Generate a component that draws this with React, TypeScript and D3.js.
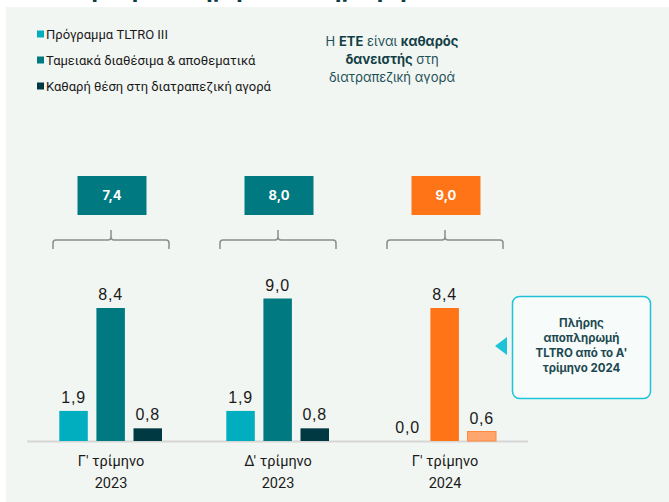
import React from 'react';
import * as d3 from 'd3';

// quarters (two-line labels)
const categories = ["Γ' τρίμηνο|2023", "Δ' τρίμηνο|2023", "Γ' τρίμηνο|2024"];
const seriesNames = ['Πρόγραμμα TLTRO III', 'Ταμειακά διαθέσιμα & αποθεματικά', 'Καθαρή θέση στη διατραπεζική αγορά'];
const tltro = [1.9, 1.9, 0.0];
const cash = [8.4, 9.0, 8.4];
const netPos = [0.8, 0.8, 0.6];
const totals = [7.4, 8.0, 9.0];
const annotationLines = [
  [{ t: 'Η ', b: false }, { t: 'ΕΤΕ', b: true }, { t: ' είναι ', b: false }, { t: 'καθαρός', b: true }],
  [{ t: 'δανειστής', b: true }, { t: ' στη', b: false }],
  [{ t: 'διατραπεζική αγορά', b: false }],
];
const calloutLines = ['Πλήρης', 'αποπληρωμή', "TLTRO από το Α'", 'τρίμηνο 2024'];

const W = 669;
const H = 502;
const seriesColors = ['#00aec0', '#007a80', '#003942'];
const orange = '#ff7417';
const lightOrange = '#ffa66e';
const fmt = (v: number) => v.toFixed(1).replace('.', ',');

export default function App() {
  const x = d3.scaleBand<string>().domain(categories).range([27.5, 528.5]).paddingInner(0);
  const inner = d3.scaleBand<number>().domain([0, 1, 2]).range([31.8, 134.5]).paddingInner(0.232);
  const y = d3.scaleLinear().domain([0, 9]).range([441, 298.5]);
  const series = [tltro, cash, netPos];

  const barFill = (s: number, g: number) => {
    if (g === 2 && s === 1) return orange;
    if (g === 2 && s === 2) return lightOrange;
    return seriesColors[s];
  };

  return (
    <svg width={W} height={H} style={{ position: 'absolute', left: 0, top: 0 }} fontFamily="Roboto, sans-serif">
      <rect x={0} y={0} width={W} height={H} fill="#ffffff" />
      {/* title cut off at the top */}
      <text x={626} y={-3} textAnchor="end" fontSize={24} fontWeight={700} fill="#0d3b44" fontFamily="Inter, sans-serif">
        Ισχυρή ρευστότητα με πλήρη αποπληρωμή του TLTRO (δισ. €)
      </text>
      <rect x={6} y={7} width={W - 6} height={H - 7} fill="#f2f6f3" />

      {/* legend */}
      {seriesNames.map((n, i) => (
        <g key={n} transform={`translate(37,${34 + i * 26})`}>
          <rect x={0} y={-3.5} width={7} height={7} fill={seriesColors[i]} />
          <text x={9} y={4.5} fontSize={13} fill="#1a1a1a">{n}</text>
        </g>
      ))}

      {/* annotation */}
      <g fontFamily="Inter, sans-serif" fontSize={13} fill="#1e5157" textAnchor="middle">
        {annotationLines.map((line, i) => (
          <text key={i} x={392} y={46 + i * 17.8}>
            {line.map((p, j) => (
              <tspan key={j} fontWeight={p.b ? 700 : 400} fill={p.b ? '#123f45' : '#1e5157'}>{p.t}</tspan>
            ))}
          </text>
        ))}
      </g>

      {/* totals boxes and braces */}
      {categories.map((c, g) => {
        const cx = (x(c) ?? 0) + x.bandwidth() / 2;
        const x0 = cx - 58;
        const x1 = cx + 58;
        return (
          <g key={c}>
            <rect x={cx - 33.5} y={176} width={69} height={39} fill={g === 2 ? orange : '#007a80'} />
            <text x={cx + 1} y={200} textAnchor="middle" fontSize={13} fontWeight={700} fill="#ffffff" fontFamily="Inter, sans-serif">
              {fmt(totals[g])}
            </text>
            <path
              d={`M${x0},249 V243 Q${x0},240 ${x0 + 3},240 H${cx - 3} Q${cx},240 ${cx},237 V230 M${cx},237 Q${cx},240 ${cx + 3},240 H${x1 - 3} Q${x1},240 ${x1},243 V249`}
              fill="none"
              stroke="#8c8c8c"
              strokeWidth={1.5}
            />
          </g>
        );
      })}

      {/* axis line */}
      <line x1={27} x2={528} y1={441.5} y2={441.5} stroke="#d6d6d6" strokeWidth={2} />

      {/* bars */}
      {categories.map((c, g) => (
        <g key={c} transform={`translate(${x(c)},0)`}>
          {series.map((vals, s) => {
            const v = vals[g];
            const bx = inner(s) ?? 0;
            const top = y(v);
            return (
              <g key={s}>
                {v > 0 && (
                  <rect
                    x={bx}
                    y={top}
                    width={inner.bandwidth()}
                    height={y(0) - top}
                    fill={barFill(s, g)}
                    stroke={g === 2 && s === 2 ? '#ff8a3d' : 'none'}
                    strokeWidth={1}
                  />
                )}
                <text
                  x={bx + inner.bandwidth() / 2}
                  y={top - 8}
                  textAnchor="middle"
                  fontSize={16}
                  fill="#1a1a1a"
                  letterSpacing={0.8}
                  fontFamily="'Liberation Sans', Arial, sans-serif"
                >
                  {fmt(v)}
                </text>
              </g>
            );
          })}
          {c.split('|').map((t, k) => (
            <text key={k} x={x.bandwidth() / 2} y={466 + k * 22} textAnchor="middle" fontSize={14.5} fill="#1a1a1a">
              {t}
            </text>
          ))}
        </g>
      ))}

      {/* callout */}
      <path d="M495,346 L507,337 L507,355 Z" fill="#1ec3d9" />
      <rect x={512.5} y={296.5} width={138} height={102} rx={7} fill="#f7fbfa" stroke="#1ec3d9" strokeWidth={1.5} />
      <g fontFamily="Inter, sans-serif" fontSize={11.5} fontWeight={700} fill="#1c4950" textAnchor="middle">
        {calloutLines.map((l, i) => (
          <text key={i} x={581.5} y={327 + i * 15}>{l}</text>
        ))}
      </g>
    </svg>
  );
}
